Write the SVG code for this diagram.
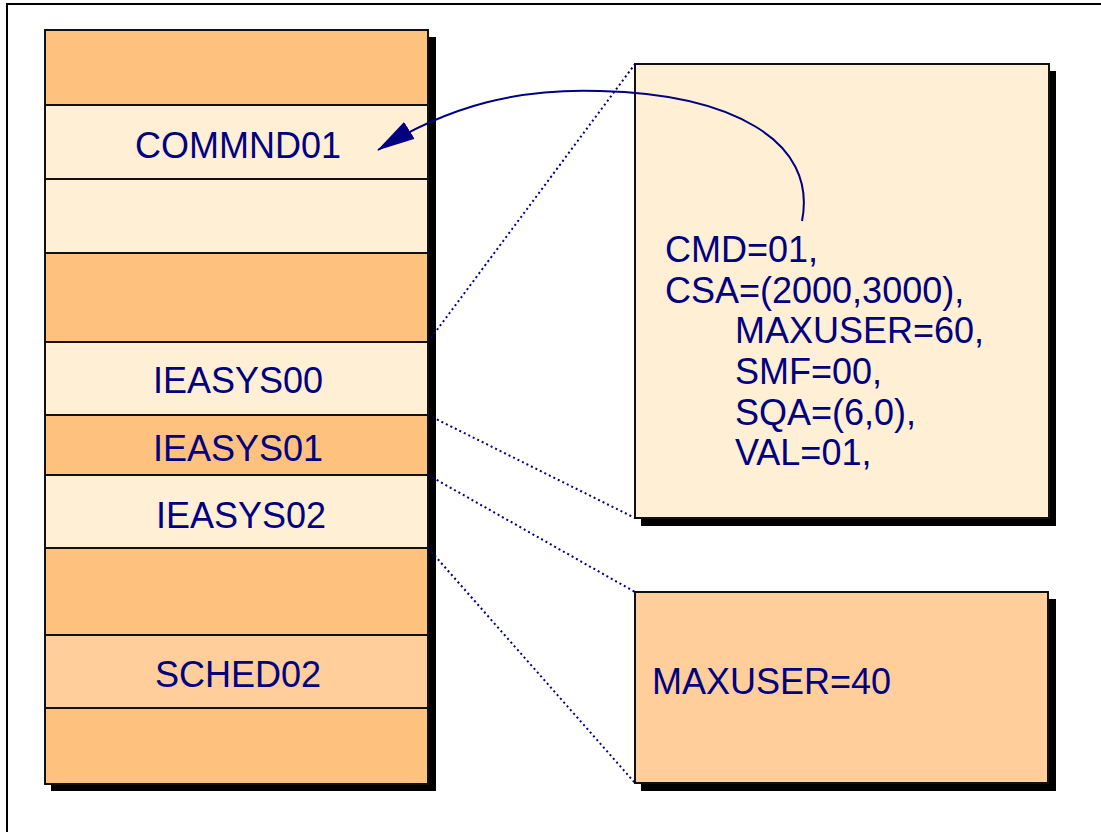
<svg xmlns="http://www.w3.org/2000/svg" width="1101" height="832" viewBox="0 0 1101 832">
<style>
.dk{fill:#FFC17E;stroke:#111;stroke-width:2}
.lt{fill:#FFF0D5;stroke:#111;stroke-width:2}
.md{fill:#FFCE9B;stroke:#111;stroke-width:2}
.sh{fill:#000}
.t{font-family:"Liberation Sans",Arial,sans-serif;font-size:36px;fill:#000080}
.c{text-anchor:middle}
.dot{stroke:#000080;stroke-width:2;stroke-dasharray:2 3;fill:none}
</style>
<defs>
<marker id="ah2" markerWidth="38" markerHeight="20" refX="37" refY="10" orient="auto" markerUnits="userSpaceOnUse" viewBox="0 0 38 20">
<path d="M0,0 L38,10 L0,20 Z" fill="#000080"/>
</marker>
</defs>
<rect width="1101" height="832" fill="#fff"/>
<path d="M7,832 V4 H1101" fill="none" stroke="#000" stroke-width="2"/>

<g id="column">
<rect class="sh" x="51" y="37" width="385" height="754"/>
<rect class="dk" x="45" y="30" width="383" height="75"/>
<rect class="lt" x="45" y="105" width="383" height="74"/>
<rect class="lt" x="45" y="179" width="383" height="74"/>
<rect class="dk" x="45" y="253" width="383" height="89"/>
<rect class="lt" x="45" y="342" width="383" height="73"/>
<rect class="dk" x="45" y="415" width="383" height="60"/>
<rect class="lt" x="45" y="475" width="383" height="73"/>
<rect class="dk" x="45" y="548" width="383" height="87"/>
<rect class="md" x="45" y="635" width="383" height="73"/>
<rect class="dk" x="45" y="708" width="383" height="76"/>
</g>
<g id="commnd01"><text class="t c" x="238" y="158">COMMND01</text></g>
<g id="ieasys00"><text class="t c" x="238" y="393">IEASYS00</text></g>
<g id="ieasys01"><text class="t c" x="238" y="461">IEASYS01</text></g>
<g id="ieasys02"><text class="t c" x="241" y="528">IEASYS02</text></g>
<g id="sched02"><text class="t c" x="238" y="687">SCHED02</text></g>

<g id="box00">
<rect class="sh" x="641" y="71" width="415" height="455"/>
<rect class="lt" x="635" y="64" width="414" height="454" stroke-width="1.5"/>
<text class="t" x="665" y="262">CMD=01,</text>
<text class="t" x="665" y="303">CSA=(2000,3000),</text>
<text class="t" x="735" y="343">MAXUSER=60,</text>
<text class="t" x="735" y="384">SMF=00,</text>
<text class="t" x="735" y="425">SQA=(6,0),</text>
<text class="t" x="735" y="465">VAL=01,</text>
</g>

<g id="box02">
<rect class="sh" x="641" y="599" width="415" height="192"/>
<rect class="md" x="635" y="592" width="413" height="191" stroke-width="1.5"/>
<text class="t" x="652" y="694">MAXUSER=40</text>
</g>

<g id="connectors">
<line class="dot" x1="428" y1="342" x2="635" y2="64"/>
<line class="dot" x1="428" y1="415" x2="635" y2="518"/>
<line class="dot" x1="428" y1="475" x2="635" y2="592"/>
<line class="dot" x1="428" y1="548" x2="635" y2="783"/>
<path d="M802,221 C818,140 730,94 600,91 C520,88 450,105 378,150" fill="none" stroke="#000080" stroke-width="2" marker-end="url(#ah2)"/>
</g>
</svg>
